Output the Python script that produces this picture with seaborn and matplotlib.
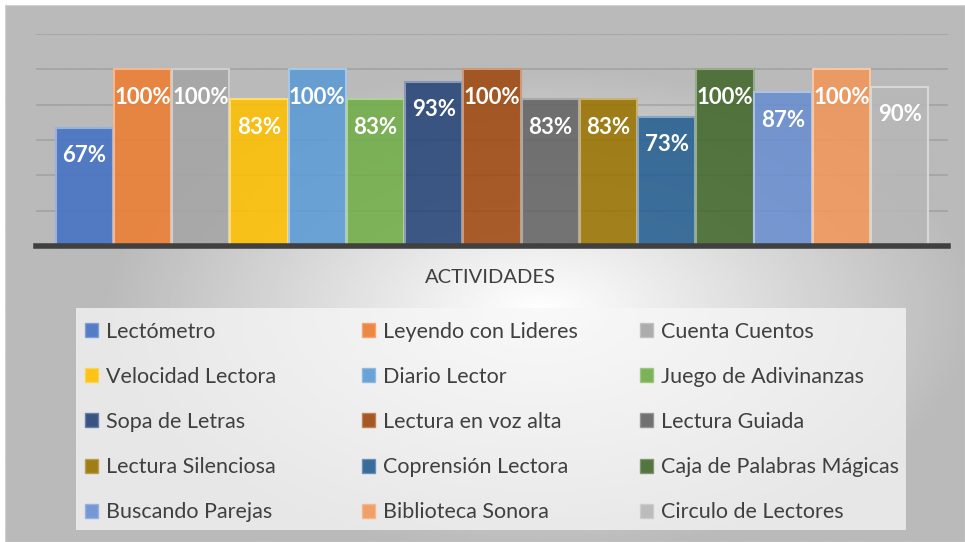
import numpy as np
import pandas as pd
import matplotlib
matplotlib.use('Agg')
import matplotlib.pyplot as plt
import seaborn as sns
from matplotlib.patches import Patch, Rectangle

# data
actividades = ['Lectómetro', 'Leyendo con Lideres', 'Cuenta Cuentos',
               'Velocidad Lectora', 'Diario Lector', 'Juego de Adivinanzas',
               'Sopa de Letras', 'Lectura en voz alta', 'Lectura Guiada',
               'Lectura Silenciosa', 'Coprensión Lectora', 'Caja de Palabras Mágicas',
               'Buscando Parejas', 'Biblioteca Sonora', 'Circulo de Lectores']
porcentajes = [0.67, 1.00, 1.00, 0.83, 1.00, 0.83, 0.93, 1.00, 0.83, 0.83,
               0.73, 1.00, 0.87, 1.00, 0.90]
colores = ['#4472C4', '#ED7D31', '#A5A5A5', '#FFC000', '#5B9BD5', '#70AD47',
           '#264478', '#9E480E', '#636363', '#997300', '#255E91', '#43682B',
           '#698ED0', '#F1975A', '#B7B7B7']

df = pd.DataFrame({'Actividad': actividades, 'Porcentaje': porcentajes})

sns.set_style('white')
plt.rcParams['font.family'] = ['Lato', 'DejaVu Sans']
text_color = '#404040'


def lighten(c, k):
    rgb = np.array(matplotlib.colors.to_rgb(c))
    return tuple(rgb + (1 - rgb) * k)


fig = plt.figure(figsize=(9.65, 5.42), dpi=100)

# radial gradient background
bg = fig.add_axes([0.005, 0.0, 0.995, 0.99])
yy, xx = np.mgrid[0:300, 0:540]
r = np.sqrt(((xx - 300) / 540.0) ** 2 + ((yy - 170) / 300.0) ** 2)
shade = np.clip(1.0 - 0.6 * r, 0.73, 1.0)
bg.imshow(shade, cmap='gray', vmin=0, vmax=1, aspect='auto', interpolation='bilinear')
bg.set_axis_off()
bg.add_patch(Rectangle((0, 0), 1, 1, transform=bg.transAxes, fill=False,
                       edgecolor='#d0d0d0', lw=1))

ax = fig.add_axes([0.0373, 0.546, 0.945, 0.391])
ax.patch.set_alpha(0)
sns.barplot(data=df, x='Actividad', y='Porcentaje', hue='Actividad',
            palette=colores, width=0.985, dodge=False, legend=False,
            ax=ax, zorder=2)

for p, c in zip(ax.patches, colores):
    p.set_facecolor(matplotlib.colors.to_rgba(c, 0.88))
    p.set_edgecolor(lighten(c, 0.45))
    p.set_linewidth(1.5)

ax.set_ylim(0, 1.2)
ax.set_xlim(-0.83, 14.83)
ax.set_yticks(np.arange(0.2, 1.21, 0.2))
ax.grid(axis='y', color='#8c8c8c', linewidth=1.1, alpha=0.55, zorder=0)
ax.set_axisbelow(True)
ax.tick_params(left=False, bottom=False, labelleft=False, labelbottom=False)
for s in ['top', 'right', 'left']:
    ax.spines[s].set_visible(False)
ax.spines['bottom'].set_color('#404040')
ax.spines['bottom'].set_linewidth(4)
ax.set_xlabel('')
ax.set_ylabel('')

for p, v in zip(ax.patches, porcentajes):
    ax.annotate(f'{v:.0%}', (p.get_x() + p.get_width() / 2, p.get_height()),
                xytext=(0, -20), textcoords='offset points', ha='center', va='center',
                fontsize=16, fontweight='bold', color='white', zorder=3)

fig.text(0.508, 0.488, 'ACTIVIDADES', ha='center', va='center',
         fontsize=14.5, color=text_color)

# legend box, filled row by row like the original
fig.patches.append(Rectangle((0.0788, 0.022), 0.860, 0.41, transform=fig.transFigure,
                             facecolor='#f7f7f7', edgecolor='none', alpha=0.75, zorder=1))
handles = [Patch(facecolor=c, edgecolor=lighten(c, 0.3), alpha=0.9) for c in colores]
col_x = [0.079, 0.366, 0.654]
for c in range(3):
    fig.legend(handles[c::3], actividades[c::3], loc='upper left',
               bbox_to_anchor=(col_x[c], 0.4225), frameon=False, fontsize=15.5,
               handlelength=0.62, handleheight=0.62, handletextpad=0.35,
               labelspacing=1.17, labelcolor=text_color, borderaxespad=0)

fig.savefig('out.png', dpi=100)
